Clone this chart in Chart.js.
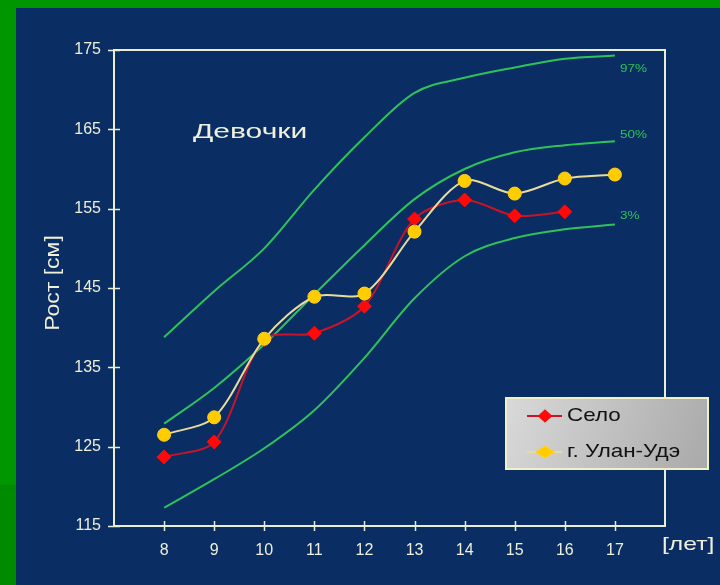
<!DOCTYPE html>
<html>
<head>
<meta charset="utf-8">
<script src="https://cdn.jsdelivr.net/npm/chart.js@4"></script>
<style>
  html, body { margin: 0; padding: 0; background: #008c00; }
  canvas { display: block; }
</style>
</head>
<body>
<canvas id="myChart" width="720" height="585"></canvas>
<script>
// ages (years)
const ages = [8, 9, 10, 11, 12, 13, 14, 15, 16, 17];
const xTicks = [8, 9, 10, 11, 12, 13, 14, 15, 16, 17];
const yTicks = [115, 125, 135, 145, 155, 165, 175];

// percentile curves
const p97 = [138.8, 144.6, 150.0, 157.4, 164.0, 169.6, 171.5, 172.8, 173.9, 174.3];
const p50 = [127.9, 132.4, 137.9, 144.2, 150.4, 156.2, 160.0, 162.1, 163.0, 163.5];
const p3  = [117.3, 120.9, 124.8, 129.6, 136.2, 143.7, 149.0, 151.3, 152.4, 153.0];

// measured groups
const selo = [123.7, 125.6, 138.5, 139.3, 142.7, 153.7, 156.1, 154.1, 154.6];
const ulanUde = [126.5, 128.7, 138.6, 143.9, 144.3, 152.1, 158.5, 156.9, 158.8, 159.3];

const pctLabels = ['97%', '50%', '3%'];

const axisColor = '#e9eed6';
const textColor = '#eef0dc';
const greenLine = '#2fc25b';

function toPoints(vals) {
    return vals.map((v, i) => ({ x: ages[i], y: v }));
}

function stretchText(ctx, text, x, y, font, sx, align) {
    ctx.save();
    ctx.font = font;
    ctx.textBaseline = 'middle';
    ctx.translate(x, y);
    ctx.scale(sx, 1);
    ctx.textAlign = align || 'left';
    ctx.fillText(text, 0, 0);
    ctx.restore();
}

const decor = {
    id: 'decor',
    beforeDraw(chart) {
        const ctx = chart.ctx;
        ctx.save();
        ctx.fillStyle = '#009600';
        ctx.fillRect(0, 0, 720, 585);
        ctx.fillStyle = '#008a00';
        ctx.fillRect(0, 485, 16, 100);
        ctx.fillStyle = '#0a2d63';
        ctx.fillRect(16, 8, 704, 577);
        ctx.restore();
    },
    afterDraw(chart) {
        const ctx = chart.ctx;
        const a = chart.chartArea;
        const xs = chart.scales.x, ys = chart.scales.y;
        ctx.save();
        // frame top + right
        ctx.strokeStyle = axisColor;
        ctx.lineWidth = 2;
        ctx.beginPath();
        ctx.moveTo(a.left, a.top);
        ctx.lineTo(a.right, a.top);
        ctx.lineTo(a.right, a.bottom);
        ctx.stroke();
        // tick marks crossing axes
        ctx.lineWidth = 1.5;
        ctx.beginPath();
        yTicks.forEach(v => {
            const py = Math.round(ys.getPixelForValue(v)) + 0.5;
            ctx.moveTo(a.left - 6, py);
            ctx.lineTo(a.left + 6, py);
        });
        xTicks.forEach(v => {
            const px = Math.round(xs.getPixelForValue(v)) + 0.5;
            ctx.moveTo(px, a.bottom - 5);
            ctx.lineTo(px, a.bottom + 5);
        });
        ctx.stroke();

        // titles
        ctx.fillStyle = textColor;
        stretchText(ctx, 'Девочки', 193, 132, '20px "Liberation Sans", Arial', 1.5);
        stretchText(ctx, '[лет]', 662, 545, '19px "Liberation Sans", Arial', 1.3);
        ctx.save();
        ctx.translate(53, 283);
        ctx.rotate(-Math.PI / 2);
        stretchText(ctx, 'Рост [см]', 0, 0, '20px "Liberation Sans", Arial', 1.15, 'center');
        ctx.restore();

        // percentile labels
        ctx.fillStyle = greenLine;
        const pctSets = [p97, p50, p3];
        const offs = [14, -6, -8];
        pctSets.forEach((arr, i) => {
            const px = xs.getPixelForValue(ages[ages.length - 1]) + 5;
            const py = ys.getPixelForValue(arr[arr.length - 1]) + offs[i];
            stretchText(ctx, pctLabels[i], px, py, '10px "Liberation Sans", Arial', 1.35);
        });

        // legend
        const bx = 506, by = 398, bw = 202, bh = 71;
        const g = ctx.createLinearGradient(bx, by, bx + bw, by + bh);
        g.addColorStop(0, '#d9d9d9');
        g.addColorStop(1, '#a9a9a9');
        ctx.fillStyle = g;
        ctx.fillRect(bx, by, bw, bh);
        ctx.strokeStyle = '#f2f0c4';
        ctx.lineWidth = 2;
        ctx.strokeRect(bx, by, bw, bh);
        const items = [chart.data.datasets[3], chart.data.datasets[4]];
        items.forEach((ds, i) => {
            const cy = by + 18 + i * 36;
            ctx.strokeStyle = ds.borderColor;
            ctx.lineWidth = 2;
            ctx.beginPath();
            ctx.moveTo(bx + 21, cy);
            ctx.lineTo(bx + 56, cy);
            ctx.stroke();
            ctx.fillStyle = ds.pointBackgroundColor;
            ctx.strokeStyle = ds.pointBorderColor;
            ctx.lineWidth = 1;
            ctx.save();
            ctx.translate(bx + 39, cy);
            ctx.scale(i === 1 ? 1.5 : 1.1, 1);
            Chart.helpers.drawPoint(ctx, { pointStyle: 'rectRot', radius: 6, borderWidth: 1 }, 0, 0);
            ctx.restore();
            ctx.fillStyle = '#111';
            stretchText(ctx, ds.label, bx + 61, cy, '19px "Liberation Sans", Arial', 1.18);
        });
        ctx.restore();
    }
};

const pctStyle = {
    borderColor: greenLine,
    borderWidth: 2,
    pointRadius: 0,
    cubicInterpolationMode: 'monotone',
    fill: false,
    order: 3
};

const ctx = document.getElementById('myChart').getContext('2d');
const myChart = new Chart(ctx, {
    type: 'line',
    data: {
        datasets: [
            Object.assign({ label: '97%', data: toPoints(p97) }, pctStyle),
            Object.assign({ label: '50%', data: toPoints(p50) }, pctStyle),
            Object.assign({ label: '3%', data: toPoints(p3) }, pctStyle),
            {
                label: 'Село',
                data: toPoints(selo),
                borderColor: '#c81428',
                borderWidth: 2,
                pointStyle: 'rectRot',
                pointRadius: 7,
                pointBackgroundColor: '#ff0a0a',
                pointBorderColor: '#ff0a0a',
                pointBorderWidth: 1,
                tension: 0.3,
                order: 2
            },
            {
                label: 'г. Улан-Удэ',
                data: toPoints(ulanUde),
                borderColor: '#e8dc9c',
                borderWidth: 2,
                pointStyle: 'circle',
                pointRadius: 6.5,
                pointBackgroundColor: '#ffcc00',
                pointBorderColor: '#ffd21a',
                pointBorderWidth: 1,
                tension: 0.3,
                order: 1
            }
        ]
    },
    options: {
        responsive: false,
        animation: false,
        layout: {
            padding: { left: 0, right: 55, top: 50, bottom: 0 }
        },
        plugins: {
            legend: { display: false },
            tooltip: { enabled: false }
        },
        scales: {
            x: {
                type: 'linear',
                min: 7,
                max: 18,
                afterBuildTicks: s => { s.ticks = xTicks.map(v => ({ value: v })); },
                afterFit: s => { s.height = 59; },
                grid: { display: false, drawTicks: false },
                border: { display: true, color: axisColor, width: 2 },
                ticks: {
                    color: textColor,
                    padding: 15,
                    font: { family: '"Liberation Sans", Arial', size: 16 }
                }
            },
            y: {
                min: 115,
                max: 175,
                afterBuildTicks: s => { s.ticks = yTicks.map(v => ({ value: v })); },
                afterFit: s => { s.width = 114; },
                grid: { display: false, drawTicks: false },
                border: { display: true, color: axisColor, width: 2 },
                ticks: {
                    color: textColor,
                    padding: 13,
                    font: { family: '"Liberation Sans", Arial', size: 16 }
                }
            }
        }
    },
    plugins: [decor]
});
</script>
</body>
</html>
